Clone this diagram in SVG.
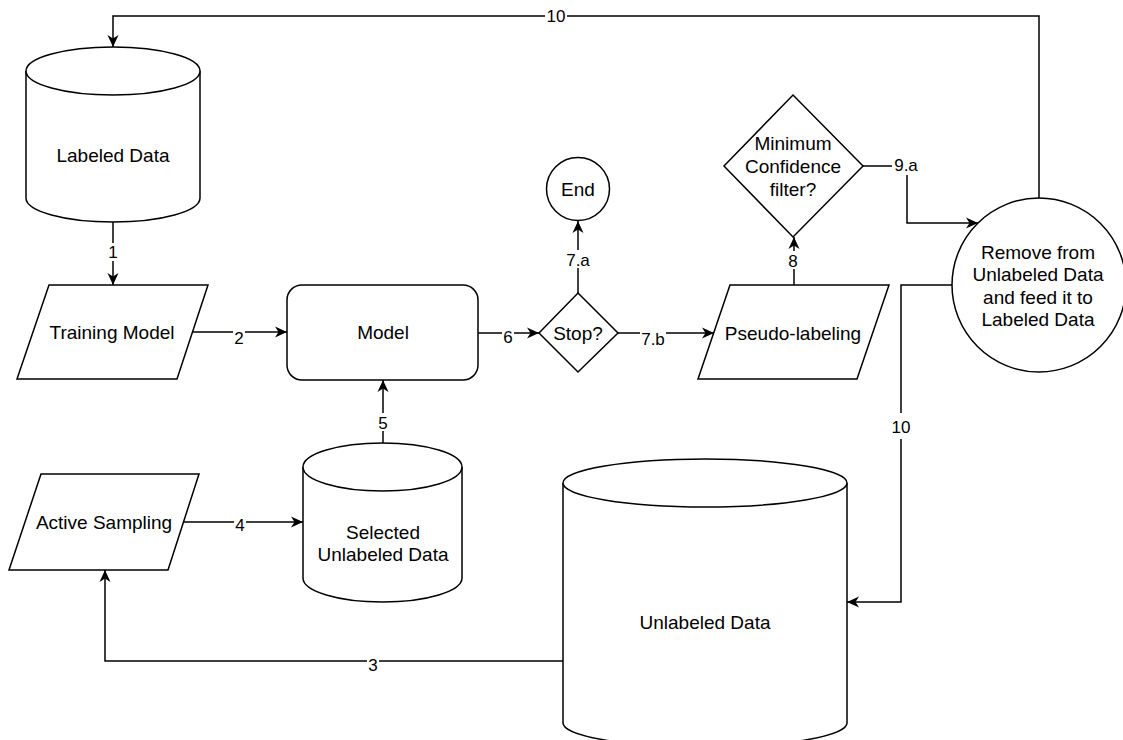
<svg xmlns="http://www.w3.org/2000/svg" width="1123" height="740" viewBox="0 0 1123 740">
  <defs>
    <marker id="arrow" markerUnits="userSpaceOnUse" markerWidth="14" markerHeight="12" refX="12" refY="5.5" orient="auto" overflow="visible">
      <path d="M0,0 L12,5.5 L0,11 L3.5,5.5 Z" fill="#000"/>
    </marker>
    <style>
      .shape { fill: #fff; stroke: #000; stroke-width: 1.5; }
      .edge { fill: none; stroke: #000; stroke-width: 1.5; }
      .txt { font-family: "Liberation Sans", Arial, Helvetica, sans-serif; font-size: 19px; fill: #000; text-anchor: middle; }
      .lbl { font-family: "Liberation Sans", Arial, Helvetica, sans-serif; font-size: 17px; fill: #000; text-anchor: middle; }
      .bg { fill: #fff; }
    </style>
  </defs>
  <rect width="1123" height="740" fill="#fff"/>

  <!-- connectors -->
  <g id="connectors">
    <path class="edge" d="M113,222 V285" marker-end="url(#arrow)"/>
    <path class="edge" d="M193,332 H287" marker-end="url(#arrow)"/>
    <path class="edge" d="M563,661 H105 V570" marker-end="url(#arrow)"/>
    <path class="edge" d="M184,522 H303" marker-end="url(#arrow)"/>
    <path class="edge" d="M383,443 V380" marker-end="url(#arrow)"/>
    <path class="edge" d="M478,333 H539" marker-end="url(#arrow)"/>
    <path class="edge" d="M578,293 V221" marker-end="url(#arrow)"/>
    <path class="edge" d="M618,333 H714" marker-end="url(#arrow)"/>
    <path class="edge" d="M794,285 V237" marker-end="url(#arrow)"/>
    <path class="edge" d="M863,166 H907 V223 H978" marker-end="url(#arrow)"/>
    <path class="edge" d="M1039,198 V16 H113 V47" marker-end="url(#arrow)"/>
    <path class="edge" d="M952,285 H901 V602 H847" marker-end="url(#arrow)"/>

    <!-- edge labels -->
    <rect class="bg" x="107" y="243" width="12" height="18"/>
    <text class="lbl" x="113" y="258">1</text>
    <rect class="bg" x="233" y="329" width="12" height="18"/>
    <text class="lbl" x="239" y="344">2</text>
    <rect class="bg" x="367" y="655" width="12" height="18"/>
    <text class="lbl" x="373" y="671">3</text>
    <rect class="bg" x="234" y="515" width="12" height="18"/>
    <text class="lbl" x="240" y="531">4</text>
    <rect class="bg" x="377" y="413" width="12" height="18"/>
    <text class="lbl" x="383" y="429">5</text>
    <rect class="bg" x="502" y="327" width="12" height="18"/>
    <text class="lbl" x="508" y="343">6</text>
    <rect class="bg" x="565" y="250" width="26" height="18"/>
    <text class="lbl" x="578" y="266">7.a</text>
    <rect class="bg" x="640" y="329" width="26" height="18"/>
    <text class="lbl" x="653" y="345">7.b</text>
    <rect class="bg" x="787" y="251" width="12" height="18"/>
    <text class="lbl" x="793" y="267">8</text>
    <rect class="bg" x="892" y="156" width="29" height="19"/>
    <text class="lbl" x="906" y="171">9.a</text>
    <rect class="bg" x="545" y="7" width="22" height="18"/>
    <text class="lbl" x="556" y="22">10</text>
    <rect class="bg" x="890" y="413" width="22" height="26"/>
    <text class="lbl" x="901" y="433">10</text>
  </g>

  <!-- nodes -->
  <g id="labeled-data">
    <path class="shape" d="M26,71 A87,24 0 0 1 200,71 L200,198 A87,24 0 0 1 26,198 Z"/>
    <path class="shape" fill="none" d="M26,71 A87,24 0 0 0 200,71"/>
    <text class="txt" x="113" y="162">Labeled Data</text>
  </g>

  <g id="training-model">
    <polygon class="shape" points="49,285 208,285 177,379 17,379"/>
    <text class="txt" x="112" y="339">Training Model</text>
  </g>

  <g id="model">
    <rect class="shape" x="287" y="285" width="191" height="95" rx="15" ry="15"/>
    <text class="txt" x="383" y="339">Model</text>
  </g>

  <g id="stop">
    <polygon class="shape" points="578,293 618,333 578,372 539,333"/>
    <text class="txt" x="578" y="340">Stop?</text>
  </g>

  <g id="end">
    <circle class="shape" cx="578" cy="189" r="31.5"/>
    <text class="txt" x="578" y="196">End</text>
  </g>

  <g id="pseudo-labeling">
    <polygon class="shape" points="730,285 889,285 857,379 698,379"/>
    <text class="txt" x="793" y="340">Pseudo-labeling</text>
  </g>

  <g id="confidence-filter">
    <polygon class="shape" points="793,95 863,166 793,237 724,166"/>
    <text class="txt" x="793" y="150">Minimum</text>
    <text class="txt" x="793" y="173">Confidence</text>
    <text class="txt" x="793" y="196">filter?</text>
  </g>

  <g id="move-to-labeled">
    <circle class="shape" cx="1039" cy="285" r="87"/>
    <text class="txt" x="1038" y="259">Remove from</text>
    <text class="txt" x="1038" y="281">Unlabeled Data</text>
    <text class="txt" x="1038" y="304">and feed it to</text>
    <text class="txt" x="1038" y="326">Labeled Data</text>
  </g>

  <g id="active-sampling">
    <polygon class="shape" points="41,474 199,474 168,570 9,570"/>
    <text class="txt" x="104" y="529">Active Sampling</text>
  </g>

  <g id="selected-unlabeled-data">
    <path class="shape" d="M303,467 A79.5,24 0 0 1 462,467 L462,578 A79.5,24 0 0 1 303,578 Z"/>
    <path class="shape" fill="none" d="M303,467 A79.5,24 0 0 0 462,467"/>
    <text class="txt" x="383" y="539">Selected</text>
    <text class="txt" x="383" y="561">Unlabeled Data</text>
  </g>

  <g id="unlabeled-data">
    <path class="shape" d="M563,483 A142,24 0 0 1 847,483 L847,723 A142,24 0 0 1 563,723 Z"/>
    <path class="shape" fill="none" d="M563,483 A142,24 0 0 0 847,483"/>
    <text class="txt" x="705" y="629">Unlabeled Data</text>
  </g>
</svg>
